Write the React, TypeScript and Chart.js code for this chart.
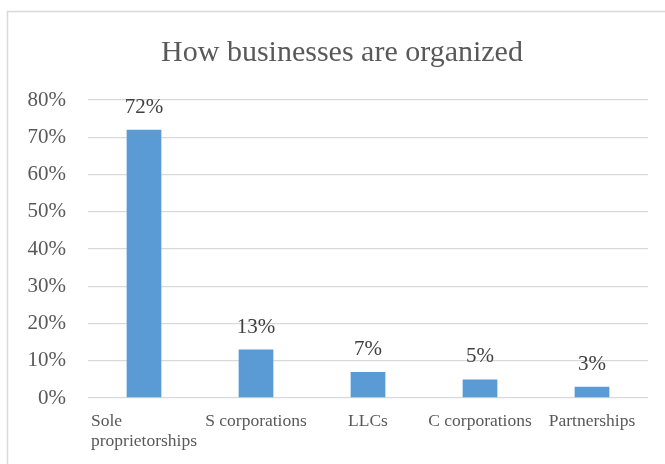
import React, { useEffect, useRef } from "react";
import { Chart, registerables } from "chart.js";

Chart.register(...registerables);

const categories: string[][] = [
  ["Sole", "proprietorships"],
  ["S corporations"],
  ["LLCs"],
  ["C corporations"],
  ["Partnerships"],
];
const shares: number[] = [72, 13, 7, 5, 3];
const yTicks: number[] = [0, 10, 20, 30, 40, 50, 60, 70, 80];
const chartTitle = "How businesses are organized";

const FONT = "'Liberation Serif', 'Times New Roman', serif";

const framePlugin = {
  id: "frame",
  beforeDraw(chart: any) {
    const ctx = chart.ctx;
    ctx.save();
    ctx.strokeStyle = "#d9d9d9";
    ctx.lineWidth = 1.5;
    ctx.strokeRect(7.5, 11.5, 720, 520);
    ctx.restore();
  },
};

const labelsPlugin = {
  id: "customLabels",
  afterDraw(chart: any) {
    const ctx = chart.ctx;
    const xScale = chart.scales.x;
    const meta = chart.getDatasetMeta(0);
    ctx.save();
    // title
    ctx.font = `30px ${FONT}`;
    ctx.fillStyle = "#595959";
    ctx.textAlign = "center";
    ctx.textBaseline = "alphabetic";
    ctx.fillText(chartTitle, 342, 61);
    // data labels
    ctx.font = `21px ${FONT}`;
    ctx.fillStyle = "#404040";
    meta.data.forEach((bar: any, i: number) => {
      ctx.fillText(`${shares[i]}%`, bar.x, bar.y - 17);
    });
    // category labels (block centred, lines left-aligned)
    ctx.font = `17.5px ${FONT}`;
    ctx.fillStyle = "#595959";
    ctx.textAlign = "left";
    const base = chart.chartArea.bottom + 28;
    categories.forEach((lines, i) => {
      const cx = xScale.getPixelForValue(i);
      const w = Math.max(...lines.map((l) => ctx.measureText(l).width));
      const left = cx - w / 2;
      lines.forEach((l, j) => ctx.fillText(l, left, base + j * 20));
    });
    ctx.restore();
  },
};

export default function App() {
  const ref = useRef<HTMLCanvasElement | null>(null);
  useEffect(() => {
    if (!ref.current) return;
    const chart = new Chart(ref.current, {
      type: "bar",
      data: {
        labels: categories.map((c) => c.join(" ")),
        datasets: [
          {
            data: shares,
            backgroundColor: "#5b9bd5",
            categoryPercentage: 1,
            barPercentage: 0.31,
          },
        ],
      },
      plugins: [framePlugin, labelsPlugin],
      options: {
        animation: false,
        responsive: true,
        maintainAspectRatio: false,
        layout: { padding: { left: 10, right: 17, top: 100, bottom: 66 } },
        plugins: {
          legend: { display: false },
          tooltip: { enabled: false },
          title: { display: false },
        },
        scales: {
          x: {
            grid: { display: false, drawTicks: false },
            border: { display: false },
            ticks: { display: false },
            afterFit: (s: any) => {
              s.height = 0;
            },
          },
          y: {
            min: 0,
            max: 80,
            afterBuildTicks: (s: any) => {
              s.ticks = yTicks.map((v) => ({ value: v }));
            },
            grid: { color: "#d9d9d9", lineWidth: 1.3, drawTicks: false },
            border: { display: false },
            ticks: {
              padding: 22,
              color: "#595959",
              font: { family: FONT, size: 21 },
              callback: (v: any) => `${v}%`,
            },
            afterFit: (s: any) => {
              s.width = 78;
            },
          },
        },
      },
    });
    return () => chart.destroy();
  }, []);
  return (
    <div style={{ position: "absolute", left: 0, top: 0, width: 665, height: 464 }}>
      <canvas ref={ref} />
    </div>
  );
}
